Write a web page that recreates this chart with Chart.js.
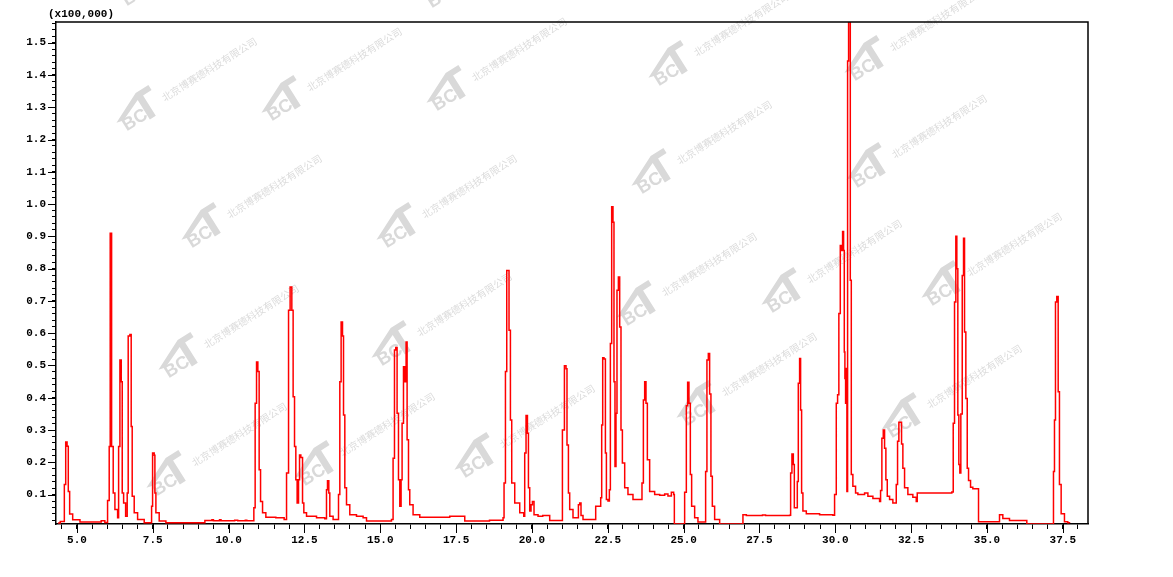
<!DOCTYPE html>
<html>
<head>
<meta charset="utf-8">
<script src="https://cdn.jsdelivr.net/npm/chart.js@4.4.0/dist/chart.umd.min.js"></script>
<style>
  html, body { margin: 0; padding: 0; background: #fff; }
  #wrap { width: 1173px; height: 577px; position: relative; }
</style>
</head>
<body>
<div id="wrap"><canvas id="chrom" width="1173" height="577"></canvas></div>
<script>
// retention time (min) and intensity (x100,000)
const retentionTimes = [
  4.38, 4.45, 4.585, 4.63, 4.675, 4.715, 4.76, 4.86, 5.10, 5.80, 5.92,
  6.01, 6.064, 6.097, 6.143, 6.196, 6.252, 6.341, 6.374, 6.417, 6.46, 6.493,
  6.539, 6.605, 6.657, 6.69, 6.746, 6.789, 6.822, 6.888, 7.00, 7.218,
  7.461, 7.494, 7.547, 7.57, 7.603, 7.712, 7.933,
  9.218, 9.45, 9.5, 9.7, 9.75, 10.2, 10.3, 10.55, 10.6,
  10.832, 10.875, 10.921, 10.964, 11.007, 11.053, 11.119, 11.228, 11.557, 11.831,
  11.91, 11.976, 12.028, 12.084, 12.127, 12.173, 12.216, 12.259, 12.305, 12.338,
  12.381, 12.437, 12.48, 12.569, 12.898, 13.171, 13.227, 13.26, 13.303, 13.336,
  13.445, 13.623, 13.666, 13.709, 13.755, 13.788, 13.831, 13.887, 13.995, 14.216,
  14.434, 14.546, 15.369, 15.422, 15.468, 15.511, 15.554, 15.60, 15.643, 15.686,
  15.719, 15.765, 15.808, 15.851, 15.884, 15.93, 15.972, 16.081, 16.302, 17.29,
  17.785, 18.6, 19.047, 19.08, 19.126, 19.169, 19.244, 19.29, 19.333, 19.432,
  19.597, 19.729, 19.761, 19.805, 19.851, 19.884, 19.926, 19.969, 20.015, 20.068,
  20.2, 20.355, 20.585, 21.004, 21.07, 21.123, 21.155, 21.202, 21.244, 21.353,
  21.531, 21.574, 21.617, 21.683, 22.101, 22.266, 22.299, 22.332, 22.375, 22.421,
  22.454, 22.506, 22.552, 22.585, 22.628, 22.671, 22.704, 22.737, 22.77, 22.803,
  22.849, 22.892, 22.935, 22.981, 23.057, 23.165, 23.33, 23.627, 23.673, 23.716,
  23.759, 23.804, 23.88, 24.045, 24.21, 24.375, 24.483, 24.595, 24.671, 24.694,
  25.033, 25.089, 25.132, 25.175, 25.221, 25.264, 25.363, 25.472, 25.725, 25.768,
  25.814, 25.857, 25.90, 25.946, 26.022, 26.187, 26.955, 27.067, 27.6, 27.7,
  28.494, 28.527, 28.57, 28.616, 28.649, 28.747, 28.78, 28.823, 28.856, 28.889,
  28.932, 29.044, 29.482, 29.92, 29.976, 30.032, 30.075, 30.117, 30.164, 30.207,
  30.24, 30.273, 30.296, 30.316, 30.339, 30.362, 30.382, 30.405, 30.438, 30.494,
  30.527, 30.579, 30.668, 30.744, 30.965, 31.074, 31.239, 31.459, 31.492, 31.535,
  31.581, 31.624, 31.667, 31.713, 31.789, 31.897, 32.009, 32.052, 32.095, 32.184,
  32.227, 32.283, 32.392, 32.556, 32.668, 32.701, 33.841, 33.887, 33.93, 33.973,
  34.006, 34.039, 34.072, 34.105, 34.138, 34.184, 34.227, 34.26, 34.303, 34.349,
  34.392, 34.458, 34.533, 34.721, 35.413, 35.522, 35.742, 36.313, 37.192, 37.225,
  37.258, 37.301, 37.347, 37.389, 37.445, 37.554, 37.663, 37.72
];
const intensities = [
  0.012, 0.017, 0.131, 0.263, 0.250, 0.110, 0.040, 0.022, 0.015, 0.019, 0.014,
  0.082, 0.249, 0.910, 0.249, 0.105, 0.054, 0.028, 0.249, 0.517, 0.450, 0.105,
  0.074, 0.033, 0.105, 0.591, 0.596, 0.311, 0.095, 0.044, 0.023, 0.013,
  0.064, 0.229, 0.222, 0.105, 0.044, 0.018, 0.013,
  0.020, 0.022, 0.019, 0.022, 0.019, 0.021, 0.019, 0.021, 0.019,
  0.059, 0.383, 0.511, 0.481, 0.177, 0.079, 0.044, 0.030, 0.028, 0.023,
  0.167, 0.671, 0.743, 0.671, 0.403, 0.249, 0.146, 0.074, 0.146, 0.223,
  0.215, 0.074, 0.044, 0.033, 0.028, 0.025, 0.115, 0.143, 0.105, 0.033,
  0.023, 0.100, 0.450, 0.635, 0.591, 0.347, 0.121, 0.069, 0.038, 0.033,
  0.028, 0.018, 0.023, 0.213, 0.548, 0.556, 0.352, 0.146, 0.064, 0.146,
  0.321, 0.496, 0.450, 0.573, 0.270, 0.115, 0.069, 0.038, 0.030, 0.033,
  0.018, 0.021, 0.028, 0.136, 0.481, 0.794, 0.609, 0.331, 0.136, 0.074,
  0.044, 0.033, 0.229, 0.345, 0.290, 0.121, 0.049, 0.069, 0.079, 0.038,
  0.033, 0.035, 0.020, 0.300, 0.499, 0.490, 0.254, 0.105, 0.054, 0.028,
  0.069, 0.074, 0.035, 0.023, 0.064, 0.090, 0.316, 0.524, 0.520, 0.229,
  0.085, 0.080, 0.115, 0.568, 0.992, 0.944, 0.450, 0.187, 0.352, 0.733,
  0.774, 0.619, 0.300, 0.198, 0.121, 0.100, 0.085, 0.136, 0.393, 0.450,
  0.383, 0.208, 0.110, 0.100, 0.098, 0.102, 0.096, 0.107, 0.100, 0.009,
  0.107, 0.375, 0.448, 0.383, 0.162, 0.064, 0.028, 0.015, 0.172, 0.517,
  0.537, 0.412, 0.157, 0.064, 0.023, 0.009, 0.038, 0.035, 0.037, 0.035,
  0.036, 0.167, 0.226, 0.193, 0.059, 0.141, 0.445, 0.522, 0.362, 0.105,
  0.049, 0.041, 0.038, 0.036, 0.100, 0.383, 0.409, 0.661, 0.872, 0.856,
  0.915, 0.856, 0.542, 0.460, 0.383, 0.491, 0.110, 1.443, 1.600, 0.764,
  0.162, 0.126, 0.105, 0.100, 0.105, 0.095, 0.088, 0.079, 0.113, 0.275,
  0.300, 0.244, 0.146, 0.095, 0.085, 0.074, 0.131, 0.265, 0.324, 0.257,
  0.182, 0.121, 0.100, 0.092, 0.079, 0.105, 0.108, 0.321, 0.697, 0.900,
  0.800, 0.347, 0.193, 0.167, 0.350, 0.779, 0.894, 0.604, 0.398, 0.182,
  0.144, 0.123, 0.118, 0.016, 0.038, 0.026, 0.020, 0.009, 0.172, 0.331,
  0.697, 0.714, 0.419, 0.131, 0.041, 0.016, 0.013, 0.012
];

const xTickLabels = ['5.0', '7.5', '10.0', '12.5', '15.0', '17.5', '20.0',
  '22.5', '25.0', '27.5', '30.0', '32.5', '35.0', '37.5'];
const yTickLabels = ['0.1', '0.2', '0.3', '0.4', '0.5', '0.6', '0.7', '0.8',
  '0.9', '1.0', '1.1', '1.2', '1.3', '1.4', '1.5'];
const yUnitLabel = '(x100,000)';
const watermarkText = '北京博赛德科技有限公司';

const X_MIN = 4.31, X_MAX = 38.33;
const Y_MIN = 0.009, Y_MAX = 1.564;

const axisFont = { family: '"Liberation Mono", "DejaVu Sans Mono", monospace', size: 11, weight: 'bold' };

function minorTicks(from, to, step) {
  const out = [];
  for (let i = Math.ceil(from / step - 1e-9); i * step <= to + 1e-9; i++) {
    out.push({ value: +(i * step).toFixed(3) });
  }
  return out;
}

function xLabel(v) {
  const s = v.toFixed(1);
  return xTickLabels.includes(s) ? s : '';
}
function yLabel(v) {
  if (Math.abs(v * 10 - Math.round(v * 10)) > 1e-6) return '';
  const s = v.toFixed(1);
  return yTickLabels.includes(s) ? s : '';
}

// background watermark anchors (canvas px)
const watermarkSpots = [
  [140, 115], [285, 105], [450, 95], [672, 70], [868, 65],
  [205, 232], [400, 232], [655, 178], [870, 172],
  [182, 362], [395, 350], [640, 310], [785, 297], [945, 290],
  [170, 480], [318, 470], [478, 462], [700, 410], [905, 422],
  [445, -8], [140, -10]
];

const watermarkPlugin = {
  id: 'watermark',
  beforeDraw(chart) {
    const ctx = chart.ctx;
    ctx.save();
    watermarkSpots.forEach(([x, y]) => {
      ctx.save();
      ctx.translate(x, y);
      ctx.rotate(-32 * Math.PI / 180);
      // roof
      ctx.fillStyle = '#d9d9d9';
      ctx.beginPath();
      ctx.moveTo(-24, -6);
      ctx.lineTo(8, -21);
      ctx.lineTo(23, -21);
      ctx.lineTo(23, -15);
      ctx.lineTo(13, -15);
      ctx.lineTo(13, 9);
      ctx.lineTo(6, 9);
      ctx.lineTo(6, -14);
      ctx.lineTo(-17, -4);
      ctx.closePath();
      ctx.fill();
      ctx.font = 'bold 18px "Liberation Sans", Arial, sans-serif';
      ctx.textBaseline = 'middle';
      ctx.textAlign = 'right';
      ctx.fillText('BC', 6, 2);
      ctx.fillStyle = '#dcdcdc';
      ctx.font = '10px "Noto Sans CJK SC", sans-serif';
      ctx.textAlign = 'left';
      ctx.fillText(watermarkText, 28, -2);
      ctx.restore();
    });
    ctx.restore();
  }
};

const framePlugin = {
  id: 'frame',
  afterDraw(chart) {
    const { ctx, chartArea: a, scales } = chart;
    ctx.save();
    ctx.strokeStyle = '#000';
    ctx.lineWidth = 1.5;
    ctx.beginPath();
    ctx.moveTo(a.left, a.top);
    ctx.lineTo(a.right, a.top);
    ctx.lineTo(a.right, a.bottom);
    ctx.stroke();
    // longer marks on labelled ticks
    ctx.lineWidth = 1;
    ctx.beginPath();
    scales.x.ticks.forEach(t => {
      if (!xLabel(t.value)) return;
      const px = Math.round(scales.x.getPixelForValue(t.value)) + 0.5;
      ctx.moveTo(px, a.bottom);
      ctx.lineTo(px, a.bottom + 9);
    });
    scales.y.ticks.forEach(t => {
      if (!yLabel(t.value)) return;
      const py = Math.round(scales.y.getPixelForValue(t.value)) + 0.5;
      ctx.moveTo(a.left - 8, py);
      ctx.lineTo(a.left, py);
    });
    ctx.stroke();
    ctx.fillStyle = '#000';
    ctx.font = 'bold 11px ' + axisFont.family;
    ctx.textAlign = 'left';
    ctx.textBaseline = 'middle';
    ctx.fillText(yUnitLabel, a.left - 8, 14);
    ctx.restore();
  }
};

const points = retentionTimes.map((t, i) => ({ x: t, y: intensities[i] }));

new Chart(document.getElementById('chrom'), {
  type: 'line',
  data: {
    datasets: [{
      data: points,
      borderColor: '#ff0000',
      borderWidth: 1.5,
      pointRadius: 0,
      stepped: 'before',
      fill: false,
      tension: 0,
    }],
  },
  options: {
    responsive: false,
    animation: false,
    devicePixelRatio: 1,
    parsing: false,
    layout: { padding: { left: 0, top: 22, right: 85, bottom: 23 } },
    plugins: { legend: { display: false }, tooltip: { enabled: false } },
    scales: {
      x: {
        type: 'linear',
        bounds: 'data',
        min: X_MIN,
        max: X_MAX,
        afterBuildTicks: s => { s.ticks = minorTicks(X_MIN, X_MAX, 0.5); },
        afterFit: s => { s.height = 30; },
        grid: { drawOnChartArea: false, drawTicks: true, tickLength: 5, tickColor: '#000', tickWidth: 1 },
        border: { color: '#000', width: 1.5 },
        ticks: {
          autoSkip: false,
          maxRotation: 0,
          padding: 5,
          color: '#000',
          font: axisFont,
          callback: v => xLabel(v),
        },
      },
      y: {
        type: 'linear',
        bounds: 'data',
        min: Y_MIN,
        max: Y_MAX,
        afterBuildTicks: s => { s.ticks = minorTicks(Y_MIN, Y_MAX, 0.02); },
        afterFit: s => { s.width = 56; },
        grid: { drawOnChartArea: false, drawTicks: true, tickLength: 4, tickColor: '#000', tickWidth: 1 },
        border: { color: '#000', width: 1.5 },
        ticks: {
          autoSkip: false,
          padding: 6,
          color: '#000',
          font: axisFont,
          callback: v => yLabel(v),
        },
      },
    },
  },
  plugins: [watermarkPlugin, framePlugin],
});
</script>
</body>
</html>
